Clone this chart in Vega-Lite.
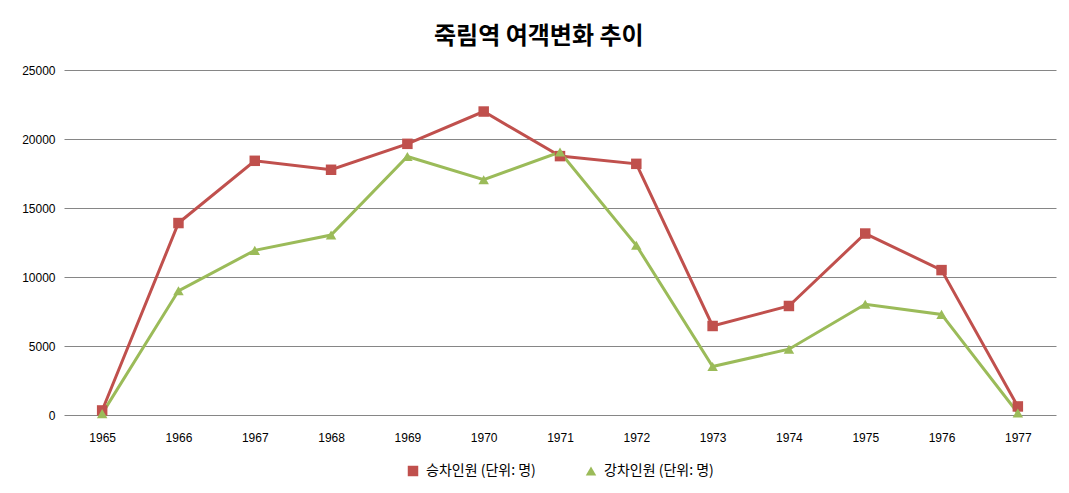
{
  "$schema": "https://vega.github.io/schema/vega-lite/v6.json",
  "autosize": {"type": "none"},
  "padding": {"left": 64, "top": 70, "right": 13, "bottom": 78},
  "width": 992,
  "height": 345,
  "title": {
    "text": "죽림역 여객변화 추이",
    "font": "Noto Sans CJK KR",
    "fontSize": 24,
    "fontWeight": "bold",
    "color": "#000000",
    "anchor": "middle",
    "frame": "bounds",
    "offset": 15
  },
  "data": {
    "values": [
      {"year": "1965", "series": "승차인원 (단위: 명)", "value": 330},
      {"year": "1966", "series": "승차인원 (단위: 명)", "value": 13910},
      {"year": "1967", "series": "승차인원 (단위: 명)", "value": 18420},
      {"year": "1968", "series": "승차인원 (단위: 명)", "value": 17770},
      {"year": "1969", "series": "승차인원 (단위: 명)", "value": 19650},
      {"year": "1970", "series": "승차인원 (단위: 명)", "value": 21990},
      {"year": "1971", "series": "승차인원 (단위: 명)", "value": 18760},
      {"year": "1972", "series": "승차인원 (단위: 명)", "value": 18200},
      {"year": "1973", "series": "승차인원 (단위: 명)", "value": 6450},
      {"year": "1974", "series": "승차인원 (단위: 명)", "value": 7900},
      {"year": "1975", "series": "승차인원 (단위: 명)", "value": 13150},
      {"year": "1976", "series": "승차인원 (단위: 명)", "value": 10500},
      {"year": "1977", "series": "승차인원 (단위: 명)", "value": 620},
      {"year": "1965", "series": "강차인원 (단위: 명)", "value": 100},
      {"year": "1966", "series": "강차인원 (단위: 명)", "value": 9000},
      {"year": "1967", "series": "강차인원 (단위: 명)", "value": 11930},
      {"year": "1968", "series": "강차인원 (단위: 명)", "value": 13040},
      {"year": "1969", "series": "강차인원 (단위: 명)", "value": 18730},
      {"year": "1970", "series": "강차인원 (단위: 명)", "value": 17050},
      {"year": "1971", "series": "강차인원 (단위: 명)", "value": 19060},
      {"year": "1972", "series": "강차인원 (단위: 명)", "value": 12300},
      {"year": "1973", "series": "강차인원 (단위: 명)", "value": 3510},
      {"year": "1974", "series": "강차인원 (단위: 명)", "value": 4770},
      {"year": "1975", "series": "강차인원 (단위: 명)", "value": 8020},
      {"year": "1976", "series": "강차인원 (단위: 명)", "value": 7290},
      {"year": "1977", "series": "강차인원 (단위: 명)", "value": 140}
    ]
  },
  "mark": {
    "type": "line",
    "strokeWidth": 3,
    "point": {"filled": true, "size": 110, "opacity": 1}
  },
  "encoding": {
    "x": {
      "field": "year",
      "type": "ordinal",
      "scale": {"type": "point", "padding": 0.5},
      "axis": {
        "title": null,
        "labelAngle": 0,
        "ticks": false,
        "domain": false,
        "grid": false,
        "labelPadding": 17
      }
    },
    "y": {
      "field": "value",
      "type": "quantitative",
      "scale": {"domain": [0, 25000], "nice": false},
      "axis": {
        "title": null,
        "values": [0, 5000, 10000, 15000, 20000, 25000],
        "format": "d",
        "ticks": false,
        "domain": false,
        "grid": true,
        "gridColor": "#868686",
        "gridWidth": 1,
        "labelPadding": 9
      }
    },
    "color": {
      "field": "series",
      "type": "nominal",
      "scale": {
        "domain": ["승차인원 (단위: 명)", "강차인원 (단위: 명)"],
        "range": ["#C0504D", "#9BBB59"]
      },
      "legend": {
        "title": null,
        "orient": "bottom",
        "direction": "horizontal",
        "offset": 21,
        "columnPadding": 48
      }
    },
    "shape": {
      "field": "series",
      "type": "nominal",
      "scale": {
        "domain": ["승차인원 (단위: 명)", "강차인원 (단위: 명)"],
        "range": ["square", "triangle-up"]
      },
      "legend": null
    }
  },
  "config": {
    "view": {"stroke": null},
    "axis": {
      "labelFont": "Liberation Sans",
      "labelFontSize": 12,
      "labelColor": "#000000"
    },
    "legend": {
      "labelFont": "Noto Sans CJK KR",
      "labelFontSize": 14,
      "labelColor": "#000000",
      "symbolSize": 110,
      "symbolStrokeWidth": 0,
      "labelOffset": 6,
      "layout": {"bottom": {"anchor": "middle"}}
    }
  }
}
